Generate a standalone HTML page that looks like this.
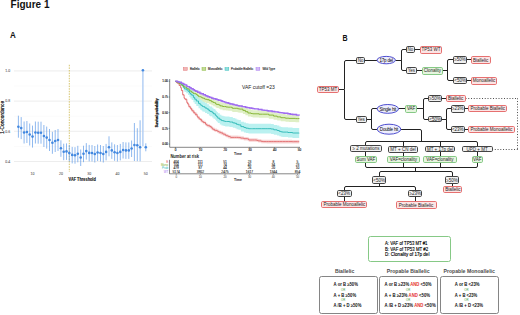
<!DOCTYPE html>
<html><head><meta charset="utf-8"><style>
html,body{margin:0;padding:0;background:#fff;width:520px;height:315px;overflow:hidden}
svg{display:block}
text{font-family:"Liberation Sans", sans-serif}
.k{stroke:#000;stroke-width:0.0px}
.k2{stroke:#1a1a1a;stroke-width:0.12px}
</style></head><body>
<svg width="520" height="315" viewBox="0 0 520 315" font-family='"Liberation Sans", sans-serif'>
<line x1="14" y1="161.5" x2="152" y2="161.5" stroke="#e9e9e9" stroke-width="0.8"/>
<line x1="14" y1="146.4" x2="152" y2="146.4" stroke="#f4f4f4" stroke-width="0.5"/>
<line x1="14" y1="131.3" x2="152" y2="131.3" stroke="#e9e9e9" stroke-width="0.8"/>
<line x1="14" y1="116.2" x2="152" y2="116.2" stroke="#f4f4f4" stroke-width="0.5"/>
<line x1="14" y1="101.1" x2="152" y2="101.1" stroke="#e9e9e9" stroke-width="0.8"/>
<line x1="14" y1="86.0" x2="152" y2="86.0" stroke="#f4f4f4" stroke-width="0.5"/>
<line x1="14" y1="70.9" x2="152" y2="70.9" stroke="#e9e9e9" stroke-width="0.8"/>
<line x1="69.3" y1="64.8" x2="69.3" y2="172" stroke="#c8b23e" stroke-width="0.75" stroke-dasharray="1.5,1.1"/>
<line x1="18.4" y1="115.7" x2="18.4" y2="137.7" stroke="#5f9be8" stroke-width="0.7"/>
<line x1="21.2" y1="117.1" x2="21.2" y2="139.1" stroke="#5f9be8" stroke-width="0.7"/>
<line x1="24.1" y1="121.5" x2="24.1" y2="143.5" stroke="#5f9be8" stroke-width="0.7"/>
<line x1="26.9" y1="121.0" x2="26.9" y2="143.0" stroke="#5f9be8" stroke-width="0.7"/>
<line x1="29.7" y1="123.5" x2="29.7" y2="145.5" stroke="#5f9be8" stroke-width="0.7"/>
<line x1="32.5" y1="125.6" x2="32.5" y2="147.6" stroke="#5f9be8" stroke-width="0.7"/>
<line x1="35.4" y1="121.5" x2="35.4" y2="143.5" stroke="#5f9be8" stroke-width="0.7"/>
<line x1="38.2" y1="121.7" x2="38.2" y2="143.7" stroke="#5f9be8" stroke-width="0.7"/>
<line x1="41.0" y1="121.7" x2="41.0" y2="143.7" stroke="#5f9be8" stroke-width="0.7"/>
<line x1="43.9" y1="125.0" x2="43.9" y2="147.0" stroke="#5f9be8" stroke-width="0.7"/>
<line x1="46.7" y1="126.6" x2="46.7" y2="148.6" stroke="#5f9be8" stroke-width="0.7"/>
<line x1="49.5" y1="129.0" x2="49.5" y2="151.0" stroke="#5f9be8" stroke-width="0.7"/>
<line x1="52.4" y1="131.8" x2="52.4" y2="153.8" stroke="#5f9be8" stroke-width="0.7"/>
<line x1="55.2" y1="130.0" x2="55.2" y2="152.0" stroke="#5f9be8" stroke-width="0.7"/>
<line x1="58.0" y1="129.0" x2="58.0" y2="151.0" stroke="#5f9be8" stroke-width="0.7"/>
<line x1="60.9" y1="140.3" x2="60.9" y2="156.8" stroke="#5f9be8" stroke-width="0.7"/>
<line x1="63.7" y1="143.7" x2="63.7" y2="160.2" stroke="#5f9be8" stroke-width="0.7"/>
<line x1="66.5" y1="143.4" x2="66.5" y2="159.9" stroke="#5f9be8" stroke-width="0.7"/>
<line x1="69.3" y1="145.0" x2="69.3" y2="161.5" stroke="#5f9be8" stroke-width="0.7"/>
<line x1="72.2" y1="146.9" x2="72.2" y2="163.4" stroke="#5f9be8" stroke-width="0.7"/>
<line x1="75.0" y1="147.2" x2="75.0" y2="163.7" stroke="#5f9be8" stroke-width="0.7"/>
<line x1="77.8" y1="145.8" x2="77.8" y2="162.3" stroke="#5f9be8" stroke-width="0.7"/>
<line x1="80.7" y1="149.5" x2="80.7" y2="166.0" stroke="#5f9be8" stroke-width="0.7"/>
<line x1="83.5" y1="145.7" x2="83.5" y2="162.2" stroke="#5f9be8" stroke-width="0.7"/>
<line x1="86.3" y1="143.1" x2="86.3" y2="159.6" stroke="#5f9be8" stroke-width="0.7"/>
<line x1="89.2" y1="144.9" x2="89.2" y2="161.4" stroke="#5f9be8" stroke-width="0.7"/>
<line x1="92.0" y1="145.0" x2="92.0" y2="161.5" stroke="#5f9be8" stroke-width="0.7"/>
<line x1="94.8" y1="146.0" x2="94.8" y2="162.5" stroke="#5f9be8" stroke-width="0.7"/>
<line x1="97.6" y1="144.5" x2="97.6" y2="161.0" stroke="#5f9be8" stroke-width="0.7"/>
<line x1="100.5" y1="145.0" x2="100.5" y2="161.5" stroke="#5f9be8" stroke-width="0.7"/>
<line x1="103.3" y1="146.0" x2="103.3" y2="162.5" stroke="#5f9be8" stroke-width="0.7"/>
<line x1="106.1" y1="143.9" x2="106.1" y2="160.4" stroke="#5f9be8" stroke-width="0.7"/>
<line x1="109.0" y1="136.3" x2="109.0" y2="156.3" stroke="#5f9be8" stroke-width="0.7"/>
<line x1="111.8" y1="142.4" x2="111.8" y2="158.9" stroke="#5f9be8" stroke-width="0.7"/>
<line x1="114.6" y1="144.3" x2="114.6" y2="160.8" stroke="#5f9be8" stroke-width="0.7"/>
<line x1="117.4" y1="145.0" x2="117.4" y2="161.5" stroke="#5f9be8" stroke-width="0.7"/>
<line x1="120.3" y1="143.9" x2="120.3" y2="160.4" stroke="#5f9be8" stroke-width="0.7"/>
<line x1="123.1" y1="142.0" x2="123.1" y2="158.5" stroke="#5f9be8" stroke-width="0.7"/>
<line x1="125.9" y1="142.4" x2="125.9" y2="158.9" stroke="#5f9be8" stroke-width="0.7"/>
<line x1="128.8" y1="142.4" x2="128.8" y2="158.9" stroke="#5f9be8" stroke-width="0.7"/>
<line x1="131.6" y1="140.5" x2="131.6" y2="157.0" stroke="#5f9be8" stroke-width="0.7"/>
<line x1="134.4" y1="123.0" x2="134.4" y2="161.0" stroke="#5f9be8" stroke-width="0.7"/>
<line x1="137.3" y1="128.2" x2="137.3" y2="161.2" stroke="#5f9be8" stroke-width="0.7"/>
<line x1="140.1" y1="120.3" x2="140.1" y2="161.3" stroke="#5f9be8" stroke-width="0.7"/>
<line x1="142.9" y1="70.2" x2="142.9" y2="146.2" stroke="#a9c9f3" stroke-width="1.3"/>
<line x1="145.8" y1="143.3" x2="145.8" y2="151.3" stroke="#5f9be8" stroke-width="0.7"/>
<circle cx="18.4" cy="126.7" r="1.3" fill="#4288e0"/>
<circle cx="21.2" cy="128.1" r="1.3" fill="#4288e0"/>
<circle cx="24.1" cy="132.5" r="1.3" fill="#4288e0"/>
<circle cx="26.9" cy="132.0" r="1.3" fill="#4288e0"/>
<circle cx="29.7" cy="134.5" r="1.3" fill="#4288e0"/>
<circle cx="32.5" cy="136.6" r="1.3" fill="#4288e0"/>
<circle cx="35.4" cy="132.5" r="1.3" fill="#4288e0"/>
<circle cx="38.2" cy="132.7" r="1.3" fill="#4288e0"/>
<circle cx="41.0" cy="132.7" r="1.3" fill="#4288e0"/>
<circle cx="43.9" cy="136.0" r="1.3" fill="#4288e0"/>
<circle cx="46.7" cy="137.6" r="1.3" fill="#4288e0"/>
<circle cx="49.5" cy="140.0" r="1.3" fill="#4288e0"/>
<circle cx="52.4" cy="142.8" r="1.3" fill="#4288e0"/>
<circle cx="55.2" cy="141.0" r="1.3" fill="#4288e0"/>
<circle cx="58.0" cy="140.0" r="1.3" fill="#4288e0"/>
<circle cx="60.9" cy="148.3" r="1.3" fill="#4288e0"/>
<circle cx="63.7" cy="151.7" r="1.3" fill="#4288e0"/>
<circle cx="66.5" cy="151.4" r="1.3" fill="#4288e0"/>
<circle cx="69.3" cy="153.0" r="1.3" fill="#4288e0"/>
<circle cx="72.2" cy="154.9" r="1.3" fill="#4288e0"/>
<circle cx="75.0" cy="155.2" r="1.3" fill="#4288e0"/>
<circle cx="77.8" cy="153.8" r="1.3" fill="#4288e0"/>
<circle cx="80.7" cy="157.5" r="1.3" fill="#4288e0"/>
<circle cx="83.5" cy="153.7" r="1.3" fill="#4288e0"/>
<circle cx="86.3" cy="151.1" r="1.3" fill="#4288e0"/>
<circle cx="89.2" cy="152.9" r="1.3" fill="#4288e0"/>
<circle cx="92.0" cy="153.0" r="1.3" fill="#4288e0"/>
<circle cx="94.8" cy="154.0" r="1.3" fill="#4288e0"/>
<circle cx="97.6" cy="152.5" r="1.3" fill="#4288e0"/>
<circle cx="100.5" cy="153.0" r="1.3" fill="#4288e0"/>
<circle cx="103.3" cy="154.0" r="1.3" fill="#4288e0"/>
<circle cx="106.1" cy="151.9" r="1.3" fill="#4288e0"/>
<circle cx="109.0" cy="147.3" r="1.3" fill="#4288e0"/>
<circle cx="111.8" cy="150.4" r="1.3" fill="#4288e0"/>
<circle cx="114.6" cy="152.3" r="1.3" fill="#4288e0"/>
<circle cx="117.4" cy="153.0" r="1.3" fill="#4288e0"/>
<circle cx="120.3" cy="151.9" r="1.3" fill="#4288e0"/>
<circle cx="123.1" cy="150.0" r="1.3" fill="#4288e0"/>
<circle cx="125.9" cy="150.4" r="1.3" fill="#4288e0"/>
<circle cx="128.8" cy="150.4" r="1.3" fill="#4288e0"/>
<circle cx="131.6" cy="148.5" r="1.3" fill="#4288e0"/>
<circle cx="134.4" cy="145.0" r="1.3" fill="#4288e0"/>
<circle cx="137.3" cy="145.2" r="1.3" fill="#4288e0"/>
<circle cx="140.1" cy="147.3" r="1.3" fill="#4288e0"/>
<circle cx="142.9" cy="70.2" r="1.3" fill="#4288e0"/>
<circle cx="145.8" cy="147.3" r="1.3" fill="#4288e0"/>
<text x="10.2" y="72.3" font-size="3.5" text-anchor="end" fill="#555" stroke="#555" stroke-width="0.05">1.0</text>
<text x="10.2" y="102.4" font-size="3.5" text-anchor="end" fill="#555" stroke="#555" stroke-width="0.05">0.8</text>
<text x="10.2" y="132.7" font-size="3.5" text-anchor="end" fill="#555" stroke="#555" stroke-width="0.05">0.6</text>
<text x="10.2" y="162.8" font-size="3.5" text-anchor="end" fill="#555" stroke="#555" stroke-width="0.05">0.4</text>
<text x="32.5" y="175.2" font-size="3.5" text-anchor="middle" fill="#555" stroke="#555" stroke-width="0.05">10</text>
<text x="60.9" y="175.2" font-size="3.5" text-anchor="middle" fill="#555" stroke="#555" stroke-width="0.05">20</text>
<text x="89.2" y="175.2" font-size="3.5" text-anchor="middle" fill="#555" stroke="#555" stroke-width="0.05">30</text>
<text x="117.4" y="175.2" font-size="3.5" text-anchor="middle" fill="#555" stroke="#555" stroke-width="0.05">40</text>
<text x="145.8" y="175.2" font-size="3.5" text-anchor="middle" fill="#555" stroke="#555" stroke-width="0.05">50</text>
<text x="68.6" y="180.6" font-size="4.5" font-weight="bold" textLength="27.2" lengthAdjust="spacingAndGlyphs" fill="#111" stroke="#111" stroke-width="0.12">VAF Threshold</text>
<text transform="translate(3.9,117.3) rotate(-90)" font-size="4.8" text-anchor="middle" fill="#111" stroke="#111" stroke-width="0.2">1-Concordance</text>
<polygon points="175.4,81.3 176.8,81.3 176.8,81.5 179.0,81.5 179.0,82.4 179.8,82.4 179.8,82.6 182.0,82.6 182.0,83.6 183.1,83.6 183.1,84.5 184.4,84.5 184.4,84.9 186.4,84.9 186.4,85.9 187.6,85.9 187.6,86.2 189.1,86.2 189.1,87.0 189.8,87.0 189.8,87.9 191.6,87.9 191.6,88.8 193.1,88.8 193.1,89.7 194.3,89.7 194.3,90.0 196.2,90.0 196.2,90.8 197.3,90.8 197.3,91.9 198.6,91.9 198.6,93.0 199.4,93.0 199.4,93.0 200.7,93.0 200.7,93.4 201.7,93.4 201.7,94.1 202.7,94.1 202.7,94.6 204.5,94.6 204.5,95.3 205.6,95.3 205.6,95.7 207.0,95.7 207.0,96.0 209.2,96.0 209.2,97.0 211.4,97.0 211.4,98.0 213.2,98.0 213.2,98.9 214.6,98.9 214.6,99.1 215.7,99.1 215.7,100.4 216.6,100.4 216.6,100.7 218.8,100.7 218.8,101.4 220.2,101.4 220.2,102.3 221.0,102.3 221.0,102.3 222.6,102.3 222.6,102.9 224.5,102.9 224.5,102.9 226.1,102.9 226.1,103.3 228.2,103.3 228.2,103.5 228.9,103.5 228.9,103.5 230.4,103.5 230.4,103.5 231.7,103.5 231.7,103.9 232.4,103.9 232.4,104.6 234.1,104.6 234.1,104.6 236.1,104.6 236.1,104.6 237.7,104.6 237.7,105.1 239.4,105.1 239.4,105.4 242.9,105.4 242.9,106.8 245.4,106.8 245.4,108.0 247.9,108.0 247.9,109.3 251.1,109.3 251.1,109.8 252.6,109.8 252.6,110.2 256.0,110.2 256.0,110.2 259.0,110.2 259.0,110.5 262.4,110.5 262.4,110.5 263.9,110.5 263.9,110.5 267.3,110.5 267.3,110.5 268.8,110.5 268.8,111.5 270.1,111.5 270.1,111.5 273.6,111.5 273.6,112.5 277.2,112.5 277.2,113.3 280.8,113.3 280.8,114.0 283.1,114.0 283.1,114.0 284.9,114.0 284.9,114.3 286.0,114.3 286.0,114.5 288.9,114.5 288.9,114.8 292.0,114.8 292.0,114.8 295.5,114.8 295.5,114.9 297.3,114.9 297.3,114.9 298.9,114.9 298.9,115.0 299.2,115.0 299.2,115.3 299.2,122.6 299.2,122.3 298.9,122.3 298.9,122.2 297.3,122.2 297.3,122.2 295.5,122.2 295.5,122.0 292.0,122.0 292.0,122.0 288.9,122.0 288.9,121.8 286.0,121.8 286.0,121.6 284.9,121.6 284.9,121.3 283.1,121.3 283.1,121.3 280.8,121.3 280.8,120.5 277.2,120.5 277.2,119.7 273.6,119.7 273.6,118.8 270.1,118.8 270.1,118.8 268.8,118.8 268.8,117.8 267.3,117.8 267.3,117.8 263.9,117.8 263.9,117.8 262.4,117.8 262.4,117.8 259.0,117.8 259.0,117.4 256.0,117.4 256.0,117.4 252.6,117.4 252.6,117.1 251.1,117.1 251.1,116.6 247.9,116.6 247.9,115.3 245.4,115.3 245.4,114.1 242.9,114.1 242.9,112.7 239.4,112.7 239.4,112.4 237.7,112.4 237.7,111.9 236.1,111.9 236.1,111.9 234.1,111.9 234.1,111.9 232.4,111.9 232.4,111.2 231.7,111.2 231.7,110.8 230.4,110.8 230.4,110.8 228.9,110.8 228.9,110.8 228.2,110.8 228.2,110.6 226.1,110.6 226.1,110.2 224.5,110.2 224.5,110.2 222.6,110.2 222.6,109.6 221.0,109.6 221.0,109.6 220.2,109.6 220.2,108.7 218.8,108.7 218.8,108.0 216.6,108.0 216.6,107.6 215.7,107.6 215.7,106.4 214.6,106.4 214.6,106.2 213.2,106.2 213.2,105.3 211.4,105.3 211.4,104.3 209.2,104.3 209.2,103.3 207.0,103.3 207.0,103.0 205.6,103.0 205.6,102.6 204.5,102.6 204.5,101.9 202.7,101.9 202.7,101.4 201.7,101.4 201.7,100.7 200.7,100.7 200.7,100.3 199.4,100.3 199.4,100.3 198.6,100.3 198.6,99.2 197.3,99.2 197.3,98.1 196.2,98.1 196.2,97.3 194.3,97.3 194.3,97.0 193.1,97.0 193.1,95.9 191.6,95.9 191.6,94.3 189.8,94.3 189.8,93.2 189.1,93.2 189.1,91.7 187.6,91.7 187.6,91.0 186.4,91.0 186.4,89.3 184.4,89.3 184.4,88.4 183.1,88.4 183.1,87.2 182.0,87.2 182.0,85.3 179.8,85.3 179.8,84.8 179.0,84.8 179.0,83.1 176.8,83.1 176.8,81.8 175.4,81.8" fill="#dcedbf" opacity="0.9"/>
<polygon points="175.4,81.3 176.4,81.3 176.4,81.3 177.5,81.3 177.5,81.3 179.5,81.3 179.5,81.3 180.2,81.3 180.2,81.7 181.8,81.7 181.8,82.9 183.6,82.9 183.6,84.9 184.5,84.9 184.5,85.9 185.2,85.9 185.2,85.8 186.3,85.8 186.3,86.4 188.0,86.4 188.0,87.4 189.5,87.4 189.5,88.7 190.4,88.7 190.4,89.6 191.7,89.6 191.7,90.5 193.4,90.5 193.4,92.5 194.7,92.5 194.7,94.3 196.3,94.3 196.3,96.1 198.5,96.1 198.5,98.5 200.2,98.5 200.2,100.0 201.5,100.0 201.5,100.6 202.4,100.6 202.4,101.6 203.6,101.6 203.6,101.9 205.0,101.9 205.0,103.1 207.0,103.1 207.0,104.2 208.9,104.2 208.9,105.7 210.0,105.7 210.0,106.5 212.2,106.5 212.2,107.8 213.5,107.8 213.5,108.9 215.3,108.9 215.3,110.3 216.1,110.3 216.1,111.1 216.8,111.1 216.8,111.9 217.8,111.9 217.8,113.3 219.8,113.3 219.8,114.8 221.5,114.8 221.5,115.7 223.5,115.7 223.5,116.2 225.2,116.2 225.2,116.6 226.5,116.6 226.5,116.6 227.9,116.6 227.9,116.6 229.5,116.6 229.5,117.1 231.5,117.1 231.5,117.1 232.8,117.1 232.8,118.0 234.9,118.0 234.9,118.4 236.5,118.4 236.5,119.4 238.4,119.4 238.4,120.0 240.9,120.0 240.9,121.7 243.9,121.7 243.9,122.6 245.9,122.6 245.9,123.3 248.5,123.3 248.5,123.8 250.1,123.8 250.1,123.8 251.4,123.8 251.4,123.8 252.5,123.8 252.5,123.8 255.6,123.8 255.6,123.8 257.9,123.8 257.9,123.8 261.6,123.8 261.6,123.8 265.1,123.8 265.1,123.8 267.2,123.8 267.2,123.8 271.1,123.8 271.1,124.1 273.8,124.1 273.8,124.9 277.1,124.9 277.1,125.6 279.3,125.6 279.3,126.5 280.9,126.5 280.9,126.9 282.4,126.9 282.4,127.2 283.9,127.2 283.9,127.2 286.7,127.2 286.7,127.2 288.0,127.2 288.0,127.6 289.1,127.6 289.1,127.6 292.5,127.6 292.5,128.1 293.8,128.1 293.8,128.1 296.1,128.1 296.1,128.1 298.6,128.1 298.6,128.1 299.2,128.1 299.2,128.2 299.2,138.0 299.2,137.9 298.6,137.9 298.6,137.9 296.1,137.9 296.1,137.9 293.8,137.9 293.8,137.9 292.5,137.9 292.5,137.4 289.1,137.4 289.1,137.4 288.0,137.4 288.0,137.0 286.7,137.0 286.7,137.0 283.9,137.0 283.9,137.0 282.4,137.0 282.4,136.7 280.9,136.7 280.9,136.3 279.3,136.3 279.3,135.4 277.1,135.4 277.1,134.7 273.8,134.7 273.8,133.9 271.1,133.9 271.1,133.6 267.2,133.6 267.2,133.6 265.1,133.6 265.1,133.6 261.6,133.6 261.6,133.6 257.9,133.6 257.9,133.6 255.6,133.6 255.6,133.6 252.5,133.6 252.5,133.6 251.4,133.6 251.4,133.6 250.1,133.6 250.1,133.6 248.5,133.6 248.5,133.0 245.9,133.0 245.9,132.4 243.9,132.4 243.9,131.5 240.9,131.5 240.9,129.8 238.4,129.8 238.4,129.2 236.5,129.2 236.5,128.2 234.9,128.2 234.9,127.8 232.8,127.8 232.8,126.9 231.5,126.9 231.5,126.9 229.5,126.9 229.5,126.4 227.9,126.4 227.9,126.4 226.5,126.4 226.5,126.4 225.2,126.4 225.2,126.0 223.5,126.0 223.5,125.5 221.5,125.5 221.5,124.6 219.8,124.6 219.8,123.0 217.8,123.0 217.8,121.7 216.8,121.7 216.8,120.9 216.1,120.9 216.1,120.1 215.3,120.1 215.3,118.7 213.5,118.7 213.5,117.6 212.2,117.6 212.2,116.3 210.0,116.3 210.0,115.5 208.9,115.5 208.9,114.0 207.0,114.0 207.0,112.9 205.0,112.9 205.0,111.7 203.6,111.7 203.6,111.4 202.4,111.4 202.4,110.4 201.5,110.4 201.5,109.8 200.2,109.8 200.2,108.3 198.5,108.3 198.5,105.9 196.3,105.9 196.3,104.1 194.7,104.1 194.7,102.3 193.4,102.3 193.4,100.0 191.7,100.0 191.7,98.5 190.4,98.5 190.4,97.1 189.5,97.1 189.5,95.1 188.0,95.1 188.0,93.2 186.3,93.2 186.3,92.1 185.2,92.1 185.2,91.9 184.5,91.9 184.5,90.4 183.6,90.4 183.6,87.6 181.8,87.6 181.8,85.5 180.2,85.5 180.2,84.8 179.5,84.8 179.5,83.2 177.5,83.2 177.5,82.6 176.4,82.6 176.4,82.0 175.4,82.0" fill="#b3f0ee" opacity="0.9"/>
<polygon points="175.4,81.3 176.2,81.3 176.2,81.8 177.2,81.8 177.2,82.8 179.1,82.8 179.1,84.9 180.6,84.9 180.6,87.0 181.4,87.0 181.4,89.7 182.7,89.7 182.7,93.9 184.1,93.9 184.1,97.2 185.0,97.2 185.0,98.2 186.8,98.2 186.8,101.2 187.6,101.2 187.6,102.6 188.8,102.6 188.8,105.2 190.3,105.2 190.3,106.8 191.6,106.8 191.6,108.6 193.2,108.6 193.2,110.6 195.0,110.6 195.0,112.5 197.1,112.5 197.1,114.9 198.2,114.9 198.2,116.2 199.9,116.2 199.9,117.9 201.6,117.9 201.6,119.4 202.7,119.4 202.7,119.7 203.3,119.7 203.3,120.7 205.5,120.7 205.5,122.5 206.6,122.5 206.6,123.3 207.7,123.3 207.7,123.9 209.8,123.9 209.8,124.9 211.3,124.9 211.3,126.2 212.7,126.2 212.7,127.6 214.6,127.6 214.6,128.6 215.2,128.6 215.2,128.6 217.0,128.6 217.0,129.2 218.2,129.2 218.2,129.8 219.0,129.8 219.0,130.4 220.7,130.4 220.7,131.2 222.8,131.2 222.8,132.3 223.7,132.3 223.7,132.4 225.4,132.4 225.4,133.5 226.5,133.5 226.5,134.0 228.3,134.0 228.3,134.9 230.1,134.9 230.1,135.3 231.0,135.3 231.0,135.6 233.0,135.6 233.0,135.6 234.7,135.6 234.7,135.6 236.4,135.6 236.4,135.6 238.3,135.6 238.3,135.8 240.6,135.8 240.6,136.3 243.8,136.3 243.8,137.0 247.4,137.0 247.4,137.2 248.7,137.2 248.7,138.2 252.2,138.2 252.2,138.2 254.4,138.2 254.4,138.2 256.8,138.2 256.8,138.6 258.2,138.6 258.2,139.1 261.3,139.1 261.3,139.7 263.2,139.7 263.2,139.8 266.7,139.8 266.7,139.8 268.6,139.8 268.6,139.8 271.2,139.8 271.2,139.8 273.4,139.8 273.4,139.8 276.2,139.8 276.2,139.8 277.8,139.8 277.8,139.8 279.3,139.8 279.3,139.8 282.5,139.8 282.5,139.8 285.7,139.8 285.7,139.8 288.4,139.8 288.4,139.8 292.1,139.8 292.1,140.0 293.7,140.0 293.7,140.0 297.3,140.0 297.3,140.0 298.8,140.0 298.8,140.0 299.2,140.0 299.2,140.0 299.2,143.5 299.2,143.5 298.8,143.5 298.8,143.5 297.3,143.5 297.3,143.5 293.7,143.5 293.7,143.5 292.1,143.5 292.1,143.4 288.4,143.4 288.4,143.4 285.7,143.4 285.7,143.4 282.5,143.4 282.5,143.4 279.3,143.4 279.3,143.4 277.8,143.4 277.8,143.4 276.2,143.4 276.2,143.4 273.4,143.4 273.4,143.4 271.2,143.4 271.2,143.4 268.6,143.4 268.6,143.4 266.7,143.4 266.7,143.3 263.2,143.3 263.2,143.2 261.3,143.2 261.3,142.6 258.2,142.6 258.2,142.1 256.8,142.1 256.8,141.7 254.4,141.7 254.4,141.7 252.2,141.7 252.2,141.7 248.7,141.7 248.7,140.7 247.4,140.7 247.4,140.5 243.8,140.5 243.8,139.8 240.6,139.8 240.6,139.3 238.3,139.3 238.3,139.1 236.4,139.1 236.4,139.1 234.7,139.1 234.7,139.1 233.0,139.1 233.0,139.1 231.0,139.1 231.0,138.9 230.1,138.9 230.1,138.4 228.3,138.4 228.3,137.5 226.5,137.5 226.5,137.0 225.4,137.0 225.4,135.9 223.7,135.9 223.7,135.8 222.8,135.8 222.8,134.7 220.7,134.7 220.7,133.9 219.0,133.9 219.0,133.4 218.2,133.4 218.2,132.8 217.0,132.8 217.0,132.1 215.2,132.1 215.2,132.1 214.6,132.1 214.6,131.1 212.7,131.1 212.7,129.7 211.3,129.7 211.3,128.4 209.8,128.4 209.8,127.5 207.7,127.5 207.7,126.8 206.6,126.8 206.6,126.0 205.5,126.0 205.5,124.2 203.3,124.2 203.3,123.2 202.7,123.2 202.7,122.9 201.6,122.9 201.6,121.4 199.9,121.4 199.9,119.7 198.2,119.7 198.2,118.4 197.1,118.4 197.1,116.1 195.0,116.1 195.0,114.1 193.2,114.1 193.2,112.0 191.6,112.0 191.6,110.0 190.3,110.0 190.3,108.1 188.8,108.1 188.8,105.3 187.6,105.3 187.6,103.7 186.8,103.7 186.8,100.4 185.0,100.4 185.0,99.2 184.1,99.2 184.1,95.7 182.7,95.7 182.7,91.3 181.4,91.3 181.4,88.4 180.6,88.4 180.6,86.0 179.1,86.0 179.1,83.6 177.2,83.6 177.2,82.5 176.2,82.5 176.2,81.6 175.4,81.6" fill="#f8d2d2" opacity="0.9"/>
<polygon points="175.4,81.3 177.5,81.3 177.5,81.7 179.0,81.7 179.0,82.0 181.2,82.0 181.2,82.7 181.9,82.7 181.9,83.0 183.5,83.0 183.5,83.8 184.7,83.8 184.7,84.4 186.6,84.4 186.6,85.6 187.5,85.6 187.5,86.0 189.6,86.0 189.6,87.2 191.1,87.2 191.1,88.0 193.1,88.0 193.1,89.0 194.5,89.0 194.5,89.8 195.8,89.8 195.8,90.6 197.7,90.6 197.7,91.5 199.9,91.5 199.9,92.5 201.1,92.5 201.1,93.0 203.3,93.0 203.3,94.0 205.4,94.0 205.4,94.8 206.3,94.8 206.3,95.3 207.9,95.3 207.9,96.0 209.7,96.0 209.7,96.7 211.8,96.7 211.8,97.4 213.5,97.4 213.5,97.9 214.4,97.9 214.4,98.0 215.8,98.0 215.8,98.6 217.2,98.6 217.2,98.9 218.6,98.9 218.6,99.4 220.8,99.4 220.8,100.1 222.0,100.1 222.0,100.5 222.9,100.5 222.9,100.9 224.4,100.9 224.4,101.4 226.0,101.4 226.0,101.9 228.2,101.9 228.2,102.5 229.7,102.5 229.7,103.0 230.8,103.0 230.8,103.2 232.9,103.2 232.9,103.8 234.3,103.8 234.3,104.1 236.0,104.1 236.0,104.5 237.4,104.5 237.4,104.8 239.0,104.8 239.0,105.2 242.1,105.2 242.1,105.9 245.4,105.9 245.4,106.6 246.9,106.6 246.9,106.8 249.3,106.8 249.3,107.2 251.3,107.2 251.3,107.6 252.8,107.6 252.8,107.8 254.5,107.8 254.5,108.1 258.3,108.1 258.3,108.8 262.0,108.8 262.0,109.4 264.1,109.4 264.1,109.6 267.3,109.6 267.3,110.1 268.4,110.1 268.4,110.2 272.1,110.2 272.1,110.7 274.7,110.7 274.7,111.1 278.1,111.1 278.1,111.6 279.9,111.6 279.9,111.9 282.0,111.9 282.0,112.2 284.0,112.2 284.0,112.5 287.9,112.5 287.9,113.1 290.2,113.1 290.2,113.5 292.7,113.5 292.7,113.8 296.5,113.8 296.5,114.4 299.2,114.4 299.2,114.8 299.2,116.3 299.2,115.9 296.5,115.9 296.5,115.3 292.7,115.3 292.7,115.0 290.2,115.0 290.2,114.6 287.9,114.6 287.9,114.0 284.0,114.0 284.0,113.7 282.0,113.7 282.0,113.4 279.9,113.4 279.9,113.2 278.1,113.2 278.1,112.6 274.7,112.6 274.7,112.2 272.1,112.2 272.1,111.7 268.4,111.7 268.4,111.6 267.3,111.6 267.3,111.1 264.1,111.1 264.1,110.9 262.0,110.9 262.0,110.3 258.3,110.3 258.3,109.6 254.5,109.6 254.5,109.3 252.8,109.3 252.8,109.1 251.3,109.1 251.3,108.7 249.3,108.7 249.3,108.3 246.9,108.3 246.9,108.1 245.4,108.1 245.4,107.4 242.1,107.4 242.1,106.7 239.0,106.7 239.0,106.3 237.4,106.3 237.4,106.0 236.0,106.0 236.0,105.6 234.3,105.6 234.3,105.3 232.9,105.3 232.9,104.7 230.8,104.7 230.8,104.5 229.7,104.5 229.7,104.0 228.2,104.0 228.2,103.4 226.0,103.4 226.0,102.9 224.4,102.9 224.4,102.4 222.9,102.4 222.9,102.0 222.0,102.0 222.0,101.6 220.8,101.6 220.8,100.9 218.6,100.9 218.6,100.4 217.2,100.4 217.2,100.1 215.8,100.1 215.8,99.6 214.4,99.6 214.4,99.4 213.5,99.4 213.5,98.9 211.8,98.9 211.8,98.2 209.7,98.2 209.7,97.5 207.9,97.5 207.9,96.8 206.3,96.8 206.3,96.3 205.4,96.3 205.4,95.5 203.3,95.5 203.3,94.5 201.1,94.5 201.1,94.1 199.9,94.1 199.9,93.0 197.7,93.0 197.7,92.1 195.8,92.1 195.8,91.3 194.5,91.3 194.5,90.5 193.1,90.5 193.1,89.4 191.1,89.4 191.1,88.5 189.6,88.5 189.6,87.2 187.5,87.2 187.5,86.6 186.6,86.6 186.6,85.3 184.7,85.3 184.7,84.6 183.5,84.6 183.5,83.7 181.9,83.7 181.9,83.4 181.2,83.4 181.2,82.5 179.0,82.5 179.0,82.1 177.5,82.1 177.5,81.4 175.4,81.4" fill="#e6d8fb" opacity="0.9"/>
<polyline points="175.4,81.3 176.2,81.3 176.2,82.2 177.2,82.2 177.2,83.2 179.1,83.2 179.1,85.5 180.6,85.5 180.6,87.7 181.4,87.7 181.4,90.5 182.7,90.5 182.7,94.8 184.1,94.8 184.1,98.2 185.0,98.2 185.0,99.3 186.8,99.3 186.8,102.5 187.6,102.5 187.6,103.9 188.8,103.9 188.8,106.6 190.3,106.6 190.3,108.4 191.6,108.4 191.6,110.3 193.2,110.3 193.2,112.3 195.0,112.3 195.0,114.3 197.1,114.3 197.1,116.7 198.2,116.7 198.2,118.0 199.9,118.0 199.9,119.6 201.6,119.6 201.6,121.2 202.7,121.2 202.7,121.5 203.3,121.5 203.3,122.5 205.5,122.5 205.5,124.2 206.6,124.2 206.6,125.1 207.7,125.1 207.7,125.7 209.8,125.7 209.8,126.6 211.3,126.6 211.3,127.9 212.7,127.9 212.7,129.3 214.6,129.3 214.6,130.4 215.2,130.4 215.2,130.4 217.0,130.4 217.0,131.0 218.2,131.0 218.2,131.6 219.0,131.6 219.0,132.1 220.7,132.1 220.7,132.9 222.8,132.9 222.8,134.0 223.7,134.0 223.7,134.2 225.4,134.2 225.4,135.3 226.5,135.3 226.5,135.8 228.3,135.8 228.3,136.6 230.1,136.6 230.1,137.1 231.0,137.1 231.0,137.4 233.0,137.4 233.0,137.4 234.7,137.4 234.7,137.4 236.4,137.4 236.4,137.4 238.3,137.4 238.3,137.6 240.6,137.6 240.6,138.1 243.8,138.1 243.8,138.7 247.4,138.7 247.4,138.9 248.7,138.9 248.7,140.0 252.2,140.0 252.2,140.0 254.4,140.0 254.4,140.0 256.8,140.0 256.8,140.4 258.2,140.4 258.2,140.9 261.3,140.9 261.3,141.4 263.2,141.4 263.2,141.6 266.7,141.6 266.7,141.6 268.6,141.6 268.6,141.6 271.2,141.6 271.2,141.6 273.4,141.6 273.4,141.6 276.2,141.6 276.2,141.6 277.8,141.6 277.8,141.6 279.3,141.6 279.3,141.6 282.5,141.6 282.5,141.6 285.7,141.6 285.7,141.6 288.4,141.6 288.4,141.6 292.1,141.6 292.1,141.7 293.7,141.7 293.7,141.7 297.3,141.7 297.3,141.7 298.8,141.7 298.8,141.7 299.2,141.7 299.2,141.7" fill="none" stroke="#e0686a" stroke-width="0.9"/>
<polyline points="175.4,81.3 176.4,81.3 176.4,81.6 177.5,81.6 177.5,82.0 179.5,82.0 179.5,83.1 180.2,83.1 180.2,83.6 181.8,83.6 181.8,85.3 183.6,85.3 183.6,87.7 184.5,87.7 184.5,88.9 185.2,88.9 185.2,88.9 186.3,88.9 186.3,89.8 188.0,89.8 188.0,91.3 189.5,91.3 189.5,92.9 190.4,92.9 190.4,94.1 191.7,94.1 191.7,95.2 193.4,95.2 193.4,97.4 194.7,97.4 194.7,99.2 196.3,99.2 196.3,101.0 198.5,101.0 198.5,103.4 200.2,103.4 200.2,104.9 201.5,104.9 201.5,105.5 202.4,105.5 202.4,106.5 203.6,106.5 203.6,106.8 205.0,106.8 205.0,108.0 207.0,108.0 207.0,109.1 208.9,109.1 208.9,110.6 210.0,110.6 210.0,111.4 212.2,111.4 212.2,112.7 213.5,112.7 213.5,113.8 215.3,113.8 215.3,115.2 216.1,115.2 216.1,116.0 216.8,116.0 216.8,116.8 217.8,116.8 217.8,118.2 219.8,118.2 219.8,119.7 221.5,119.7 221.5,120.6 223.5,120.6 223.5,121.1 225.2,121.1 225.2,121.5 226.5,121.5 226.5,121.5 227.9,121.5 227.9,121.5 229.5,121.5 229.5,122.0 231.5,122.0 231.5,122.0 232.8,122.0 232.8,122.9 234.9,122.9 234.9,123.3 236.5,123.3 236.5,124.3 238.4,124.3 238.4,124.9 240.9,124.9 240.9,126.6 243.9,126.6 243.9,127.5 245.9,127.5 245.9,128.2 248.5,128.2 248.5,128.7 250.1,128.7 250.1,128.7 251.4,128.7 251.4,128.7 252.5,128.7 252.5,128.7 255.6,128.7 255.6,128.7 257.9,128.7 257.9,128.7 261.6,128.7 261.6,128.7 265.1,128.7 265.1,128.7 267.2,128.7 267.2,128.7 271.1,128.7 271.1,129.0 273.8,129.0 273.8,129.8 277.1,129.8 277.1,130.5 279.3,130.5 279.3,131.4 280.9,131.4 280.9,131.8 282.4,131.8 282.4,132.1 283.9,132.1 283.9,132.1 286.7,132.1 286.7,132.1 288.0,132.1 288.0,132.5 289.1,132.5 289.1,132.5 292.5,132.5 292.5,133.0 293.8,133.0 293.8,133.0 296.1,133.0 296.1,133.0 298.6,133.0 298.6,133.0 299.2,133.0 299.2,133.1" fill="none" stroke="#2ab8b5" stroke-width="0.9"/>
<polyline points="175.4,81.3 176.8,81.3 176.8,82.3 179.0,82.3 179.0,83.6 179.8,83.6 179.8,83.9 182.0,83.9 182.0,85.4 183.1,85.4 183.1,86.5 184.4,86.5 184.4,87.1 186.4,87.1 186.4,88.4 187.6,88.4 187.6,88.9 189.1,88.9 189.1,90.1 189.8,90.1 189.8,91.1 191.6,91.1 191.6,92.3 193.1,92.3 193.1,93.4 194.3,93.4 194.3,93.7 196.2,93.7 196.2,94.5 197.3,94.5 197.3,95.6 198.6,95.6 198.6,96.6 199.4,96.6 199.4,96.7 200.7,96.7 200.7,97.0 201.7,97.0 201.7,97.7 202.7,97.7 202.7,98.2 204.5,98.2 204.5,99.0 205.6,99.0 205.6,99.3 207.0,99.3 207.0,99.7 209.2,99.7 209.2,100.6 211.4,100.6 211.4,101.7 213.2,101.7 213.2,102.5 214.6,102.5 214.6,102.8 215.7,102.8 215.7,104.0 216.6,104.0 216.6,104.4 218.8,104.4 218.8,105.0 220.2,105.0 220.2,105.9 221.0,105.9 221.0,105.9 222.6,105.9 222.6,106.5 224.5,106.5 224.5,106.6 226.1,106.6 226.1,107.0 228.2,107.0 228.2,107.2 228.9,107.2 228.9,107.2 230.4,107.2 230.4,107.2 231.7,107.2 231.7,107.6 232.4,107.6 232.4,108.3 234.1,108.3 234.1,108.3 236.1,108.3 236.1,108.3 237.7,108.3 237.7,108.8 239.4,108.8 239.4,109.1 242.9,109.1 242.9,110.4 245.4,110.4 245.4,111.7 247.9,111.7 247.9,113.0 251.1,113.0 251.1,113.5 252.6,113.5 252.6,113.8 256.0,113.8 256.0,113.8 259.0,113.8 259.0,114.2 262.4,114.2 262.4,114.2 263.9,114.2 263.9,114.2 267.3,114.2 267.3,114.2 268.8,114.2 268.8,115.1 270.1,115.1 270.1,115.1 273.6,115.1 273.6,116.1 277.2,116.1 277.2,116.9 280.8,116.9 280.8,117.7 283.1,117.7 283.1,117.7 284.9,117.7 284.9,118.0 286.0,118.0 286.0,118.2 288.9,118.2 288.9,118.4 292.0,118.4 292.0,118.4 295.5,118.4 295.5,118.6 297.3,118.6 297.3,118.6 298.9,118.6 298.9,118.7 299.2,118.7 299.2,119.0" fill="none" stroke="#7fb02a" stroke-width="0.9"/>
<polyline points="175.4,81.3 177.5,81.3 177.5,81.9 179.0,81.9 179.0,82.3 181.2,82.3 181.2,83.0 181.9,83.0 181.9,83.4 183.5,83.4 183.5,84.2 184.7,84.2 184.7,84.9 186.6,84.9 186.6,86.1 187.5,86.1 187.5,86.6 189.6,86.6 189.6,87.8 191.1,87.8 191.1,88.7 193.1,88.7 193.1,89.8 194.5,89.8 194.5,90.6 195.8,90.6 195.8,91.3 197.7,91.3 197.7,92.2 199.9,92.2 199.9,93.3 201.1,93.3 201.1,93.8 203.3,93.8 203.3,94.7 205.4,94.7 205.4,95.6 206.3,95.6 206.3,96.0 207.9,96.0 207.9,96.7 209.7,96.7 209.7,97.4 211.8,97.4 211.8,98.2 213.5,98.2 213.5,98.7 214.4,98.7 214.4,98.8 215.8,98.8 215.8,99.3 217.2,99.3 217.2,99.7 218.6,99.7 218.6,100.2 220.8,100.2 220.8,100.8 222.0,100.8 222.0,101.3 222.9,101.3 222.9,101.6 224.4,101.6 224.4,102.1 226.0,102.1 226.0,102.7 228.2,102.7 228.2,103.3 229.7,103.3 229.7,103.8 230.8,103.8 230.8,104.0 232.9,104.0 232.9,104.5 234.3,104.5 234.3,104.9 236.0,104.9 236.0,105.3 237.4,105.3 237.4,105.6 239.0,105.6 239.0,106.0 242.1,106.0 242.1,106.6 245.4,106.6 245.4,107.3 246.9,107.3 246.9,107.6 249.3,107.6 249.3,108.0 251.3,108.0 251.3,108.3 252.8,108.3 252.8,108.6 254.5,108.6 254.5,108.9 258.3,108.9 258.3,109.5 262.0,109.5 262.0,110.1 264.1,110.1 264.1,110.4 267.3,110.4 267.3,110.8 268.4,110.8 268.4,111.0 272.1,111.0 272.1,111.5 274.7,111.5 274.7,111.9 278.1,111.9 278.1,112.4 279.9,112.4 279.9,112.6 282.0,112.6 282.0,112.9 284.0,112.9 284.0,113.3 287.9,113.3 287.9,113.8 290.2,113.8 290.2,114.3 292.7,114.3 292.7,114.5 296.5,114.5 296.5,115.1 299.2,115.1 299.2,115.5" fill="none" stroke="#9f6cf0" stroke-width="1.4"/>
<line x1="169.7" y1="79" x2="169.7" y2="147.3" stroke="#333" stroke-width="0.6"/>
<line x1="169.7" y1="147.3" x2="300" y2="147.3" stroke="#333" stroke-width="0.6"/>
<text x="168" y="82.3" font-size="3.0" text-anchor="end" fill="#1a1a1a" class="k2">1.00</text>
<line x1="168.6" y1="81.3" x2="169.7" y2="81.3" stroke="#333" stroke-width="0.5"/>
<text x="168" y="98.0" font-size="3.0" text-anchor="end" fill="#1a1a1a" class="k2">0.75</text>
<line x1="168.6" y1="97.0" x2="169.7" y2="97.0" stroke="#333" stroke-width="0.5"/>
<text x="168" y="113.7" font-size="3.0" text-anchor="end" fill="#1a1a1a" class="k2">0.50</text>
<line x1="168.6" y1="112.7" x2="169.7" y2="112.7" stroke="#333" stroke-width="0.5"/>
<text x="168" y="129.5" font-size="3.0" text-anchor="end" fill="#1a1a1a" class="k2">0.25</text>
<line x1="168.6" y1="128.4" x2="169.7" y2="128.4" stroke="#333" stroke-width="0.5"/>
<text x="168" y="145.2" font-size="3.0" text-anchor="end" fill="#1a1a1a" class="k2">0.00</text>
<line x1="168.6" y1="144.1" x2="169.7" y2="144.1" stroke="#333" stroke-width="0.5"/>
<text x="175.7" y="150.6" font-size="3.0" text-anchor="middle" fill="#1a1a1a" class="k2">0</text>
<line x1="175.4" y1="147.3" x2="175.4" y2="148.4" stroke="#333" stroke-width="0.5"/>
<text x="200.5" y="150.6" font-size="3.0" text-anchor="middle" fill="#1a1a1a" class="k2">10</text>
<line x1="200.2" y1="147.3" x2="200.2" y2="148.4" stroke="#333" stroke-width="0.5"/>
<text x="225.2" y="150.6" font-size="3.0" text-anchor="middle" fill="#1a1a1a" class="k2">20</text>
<line x1="224.9" y1="147.3" x2="224.9" y2="148.4" stroke="#333" stroke-width="0.5"/>
<text x="250.0" y="150.6" font-size="3.0" text-anchor="middle" fill="#1a1a1a" class="k2">30</text>
<line x1="249.7" y1="147.3" x2="249.7" y2="148.4" stroke="#333" stroke-width="0.5"/>
<text x="274.7" y="150.6" font-size="3.0" text-anchor="middle" fill="#1a1a1a" class="k2">40</text>
<line x1="274.4" y1="147.3" x2="274.4" y2="148.4" stroke="#333" stroke-width="0.5"/>
<text x="299.5" y="150.6" font-size="3.0" text-anchor="middle" fill="#1a1a1a" class="k2">50</text>
<line x1="299.2" y1="147.3" x2="299.2" y2="148.4" stroke="#333" stroke-width="0.5"/>
<text x="238" y="155" font-size="3.4" font-weight="bold" text-anchor="middle" fill="#222">Time</text>
<text transform="translate(158.2,113) rotate(-90)" font-size="3.1" font-weight="bold" text-anchor="middle" fill="#000" stroke="#000" stroke-width="0.2">Survival probability</text>
<text x="242" y="88.8" font-size="5" fill="#222">VAF cutoff =23</text>
<rect x="183.4" y="67.5" width="3.8" height="3" fill="#f8d2d2" stroke="#e0686a" stroke-width="0.5" opacity="0.9"/>
<line x1="183.4" y1="69" x2="187.20000000000002" y2="69" stroke="#e0686a" stroke-width="0.6"/>
<text x="190" y="70" font-size="2.9" fill="#222" stroke="#222" stroke-width="0.1">Biallelic</text>
<rect x="202" y="67.5" width="3.8" height="3" fill="#dcedbf" stroke="#7fb02a" stroke-width="0.5" opacity="0.9"/>
<line x1="202" y1="69" x2="205.8" y2="69" stroke="#7fb02a" stroke-width="0.6"/>
<text x="208" y="70" font-size="2.9" fill="#222" stroke="#222" stroke-width="0.1">Monoallelic</text>
<rect x="225" y="67.5" width="3.8" height="3" fill="#b3f0ee" stroke="#2ab8b5" stroke-width="0.5" opacity="0.9"/>
<line x1="225" y1="69" x2="228.8" y2="69" stroke="#2ab8b5" stroke-width="0.6"/>
<text x="231" y="70" font-size="2.9" fill="#222" stroke="#222" stroke-width="0.1">Probable Biallelic</text>
<rect x="256" y="67.5" width="3.8" height="3" fill="#e6d8fb" stroke="#9f6cf0" stroke-width="0.5" opacity="0.9"/>
<line x1="256" y1="69" x2="259.8" y2="69" stroke="#9f6cf0" stroke-width="0.6"/>
<text x="262.4" y="70" font-size="2.9" fill="#222" stroke="#222" stroke-width="0.1">Wild Type</text>
<text x="170.4" y="157.5" font-size="4.5" font-weight="bold" textLength="28.6" lengthAdjust="spacingAndGlyphs" fill="#1a1a1a">Number at risk</text>
<line x1="169.5" y1="159.8" x2="169.5" y2="173.8" stroke="#333" stroke-width="0.6"/>
<line x1="169.5" y1="173.8" x2="300" y2="173.8" stroke="#333" stroke-width="0.6"/>
<text x="176.2" y="162.6" font-size="3.3" text-anchor="middle" fill="#222" stroke="#222" stroke-width="0.08">404</text>
<text x="200.3" y="162.6" font-size="3.3" text-anchor="middle" fill="#222" stroke="#222" stroke-width="0.08">111</text>
<text x="225" y="162.6" font-size="3.3" text-anchor="middle" fill="#222" stroke="#222" stroke-width="0.08">51</text>
<text x="249.5" y="162.6" font-size="3.3" text-anchor="middle" fill="#222" stroke="#222" stroke-width="0.08">23</text>
<text x="273.3" y="162.6" font-size="3.3" text-anchor="middle" fill="#222" stroke="#222" stroke-width="0.08">8</text>
<text x="297.5" y="162.6" font-size="3.3" text-anchor="middle" fill="#222" stroke="#222" stroke-width="0.08">5</text>
<text x="176.2" y="166.0" font-size="3.3" text-anchor="middle" fill="#222" stroke="#222" stroke-width="0.08">104</text>
<text x="200.3" y="166.0" font-size="3.3" text-anchor="middle" fill="#222" stroke="#222" stroke-width="0.08">111</text>
<text x="225" y="166.0" font-size="3.3" text-anchor="middle" fill="#222" stroke="#222" stroke-width="0.08">74</text>
<text x="249.5" y="166.0" font-size="3.3" text-anchor="middle" fill="#222" stroke="#222" stroke-width="0.08">45</text>
<text x="273.3" y="166.0" font-size="3.3" text-anchor="middle" fill="#222" stroke="#222" stroke-width="0.08">34</text>
<text x="297.5" y="166.0" font-size="3.3" text-anchor="middle" fill="#222" stroke="#222" stroke-width="0.08">23</text>
<text x="176.2" y="169.4" font-size="3.3" text-anchor="middle" fill="#222" stroke="#222" stroke-width="0.08">479</text>
<text x="200.3" y="169.4" font-size="3.3" text-anchor="middle" fill="#222" stroke="#222" stroke-width="0.08">87</text>
<text x="225" y="169.4" font-size="3.3" text-anchor="middle" fill="#222" stroke="#222" stroke-width="0.08">44</text>
<text x="249.5" y="169.4" font-size="3.3" text-anchor="middle" fill="#222" stroke="#222" stroke-width="0.08">26</text>
<text x="273.3" y="169.4" font-size="3.3" text-anchor="middle" fill="#222" stroke="#222" stroke-width="0.08">20</text>
<text x="297.5" y="169.4" font-size="3.3" text-anchor="middle" fill="#222" stroke="#222" stroke-width="0.08">10</text>
<text x="176.2" y="172.6" font-size="3.3" text-anchor="middle" fill="#222" stroke="#222" stroke-width="0.08">5174</text>
<text x="200.3" y="172.6" font-size="3.3" text-anchor="middle" fill="#222" stroke="#222" stroke-width="0.08">3902</text>
<text x="225" y="172.6" font-size="3.3" text-anchor="middle" fill="#222" stroke="#222" stroke-width="0.08">2475</text>
<text x="249.5" y="172.6" font-size="3.3" text-anchor="middle" fill="#222" stroke="#222" stroke-width="0.08">1617</text>
<text x="273.3" y="172.6" font-size="3.3" text-anchor="middle" fill="#222" stroke="#222" stroke-width="0.08">1344</text>
<text x="297.5" y="172.6" font-size="3.3" text-anchor="middle" fill="#222" stroke="#222" stroke-width="0.08">854</text>
<text x="168.2" y="162.5" font-size="2.9" text-anchor="end" fill="#e0686a">B</text>
<text x="168.2" y="165.9" font-size="2.9" text-anchor="end" fill="#7fb02a">Mono</text>
<text x="168.2" y="169.3" font-size="2.9" text-anchor="end" fill="#2ab8b5">Prob</text>
<text x="168.2" y="172.5" font-size="2.9" text-anchor="end" fill="#9f6cf0">WT</text>
<text x="176.2" y="177.6" font-size="2.9" text-anchor="middle" fill="#333">0</text>
<line x1="176.2" y1="173.8" x2="176.2" y2="174.8" stroke="#333" stroke-width="0.5"/>
<text x="200.3" y="177.6" font-size="2.9" text-anchor="middle" fill="#333">10</text>
<line x1="200.3" y1="173.8" x2="200.3" y2="174.8" stroke="#333" stroke-width="0.5"/>
<text x="225" y="177.6" font-size="2.9" text-anchor="middle" fill="#333">20</text>
<line x1="225" y1="173.8" x2="225" y2="174.8" stroke="#333" stroke-width="0.5"/>
<text x="249.5" y="177.6" font-size="2.9" text-anchor="middle" fill="#333">30</text>
<line x1="249.5" y1="173.8" x2="249.5" y2="174.8" stroke="#333" stroke-width="0.5"/>
<text x="273.3" y="177.6" font-size="2.9" text-anchor="middle" fill="#333">40</text>
<line x1="273.3" y1="173.8" x2="273.3" y2="174.8" stroke="#333" stroke-width="0.5"/>
<text x="297.5" y="177.6" font-size="2.9" text-anchor="middle" fill="#333">50</text>
<line x1="297.5" y1="173.8" x2="297.5" y2="174.8" stroke="#333" stroke-width="0.5"/>
<text x="238" y="181.4" font-size="3.4" font-weight="bold" text-anchor="middle" fill="#222">Time</text>
<path d="M338.60,89.50 L344.10,89.50" fill="none" stroke="#222" stroke-width="1.0"/>
<path d="M344.50,89.60 L344.50,62.00 Q344.50,60.50 346.00,60.50 L356.50,60.50" fill="none" stroke="#222" stroke-width="1.0"/>
<path d="M344.50,89.60 L344.50,118.00 Q344.50,119.50 346.00,119.50 L356.30,119.50" fill="none" stroke="#222" stroke-width="1.0"/>
<path d="M364.80,60.50 L377.00,60.50" fill="none" stroke="#222" stroke-width="1.0"/>
<path d="M395.40,60.50 L401.70,60.50" fill="none" stroke="#222" stroke-width="1.0"/>
<path d="M401.50,60.20 L401.50,51.00 Q401.50,49.50 403.00,49.50 L406.20,49.50" fill="none" stroke="#222" stroke-width="1.0"/>
<path d="M401.50,60.20 L401.50,69.00 Q401.50,70.50 403.00,70.50 L406.50,70.50" fill="none" stroke="#222" stroke-width="1.0"/>
<path d="M414.80,49.50 L420.50,49.50" fill="none" stroke="#222" stroke-width="1.0"/>
<path d="M416.30,70.50 L422.40,70.50" fill="none" stroke="#222" stroke-width="1.0"/>
<path d="M442.70,70.50 L447.90,70.50" fill="none" stroke="#222" stroke-width="1.0"/>
<path d="M447.50,70.60 L447.50,61.00 Q447.50,59.50 449.00,59.50 L453.50,59.50" fill="none" stroke="#222" stroke-width="1.0"/>
<path d="M447.50,70.60 L447.50,79.00 Q447.50,80.50 449.00,80.50 L453.50,80.50" fill="none" stroke="#222" stroke-width="1.0"/>
<path d="M466.70,59.50 L471.40,59.50" fill="none" stroke="#222" stroke-width="1.0"/>
<path d="M466.70,80.50 L471.40,80.50" fill="none" stroke="#222" stroke-width="1.0"/>
<path d="M366.20,119.50 L371.70,119.50" fill="none" stroke="#222" stroke-width="1.0"/>
<path d="M371.50,119.10 L371.50,110.00 Q371.50,108.50 373.00,108.50 L377.30,108.50" fill="none" stroke="#222" stroke-width="1.0"/>
<path d="M371.50,119.10 L371.50,128.00 Q371.50,129.50 373.00,129.50 L377.30,129.50" fill="none" stroke="#222" stroke-width="1.0"/>
<path d="M398.40,108.50 L405.60,108.50" fill="none" stroke="#222" stroke-width="1.0"/>
<path d="M416.70,108.50 L423.50,108.50" fill="none" stroke="#222" stroke-width="1.0"/>
<path d="M423.50,108.80 L423.50,100.00 Q423.50,98.50 425.00,98.50 L428.60,98.50" fill="none" stroke="#222" stroke-width="1.0"/>
<path d="M423.50,108.80 L423.50,118.00 Q423.50,119.50 425.00,119.50 L428.60,119.50" fill="none" stroke="#222" stroke-width="1.0"/>
<path d="M441.60,98.50 L446.30,98.50" fill="none" stroke="#222" stroke-width="1.0"/>
<path d="M441.60,119.50 L446.00,119.50" fill="none" stroke="#222" stroke-width="1.0"/>
<path d="M446.50,119.10 L446.50,110.00 Q446.50,108.50 448.00,108.50 L451.10,108.50" fill="none" stroke="#222" stroke-width="1.0"/>
<path d="M446.50,119.10 L446.50,128.00 Q446.50,129.50 448.00,129.50 L451.10,129.50" fill="none" stroke="#222" stroke-width="1.0"/>
<path d="M464.30,108.50 L468.70,108.50" fill="none" stroke="#222" stroke-width="1.0"/>
<path d="M464.30,129.50 L468.70,129.50" fill="none" stroke="#222" stroke-width="1.0"/>
<path d="M465.50,98.50 L517.80,98.50" fill="none" stroke="#3a3a3a" stroke-width="0.9" stroke-dasharray="1,1.75"/>
<path d="M517.50,98.30 L517.50,149.00" fill="none" stroke="#3a3a3a" stroke-width="0.9" stroke-dasharray="1,1.75"/>
<path d="M517.80,149.50 L492.50,149.50" fill="none" stroke="#3a3a3a" stroke-width="0.9" stroke-dasharray="1,1.75"/>
<path d="M400.30,129.50 L420.00,129.50 Q421.50,129.50 421.50,131.00 L421.50,141.80" fill="none" stroke="#222" stroke-width="1.0"/>
<path d="M365.50,145.90 L365.50,143.00 Q365.50,141.50 367.00,141.50 L476.00,141.50 Q477.50,141.50 477.50,143.00 L477.50,146.10" fill="none" stroke="#222" stroke-width="1.0"/>
<path d="M403.50,141.80 L403.50,146.10" fill="none" stroke="#222" stroke-width="1.0"/>
<path d="M440.50,141.80 L440.50,146.10" fill="none" stroke="#222" stroke-width="1.0"/>
<path d="M365.50,152.00 L365.50,156.80" fill="none" stroke="#222" stroke-width="1.0"/>
<path d="M403.50,152.00 L403.50,156.80" fill="none" stroke="#222" stroke-width="1.0"/>
<path d="M440.50,152.00 L440.50,156.80" fill="none" stroke="#222" stroke-width="1.0"/>
<path d="M477.50,152.00 L477.50,156.80" fill="none" stroke="#222" stroke-width="1.0"/>
<path d="M365.50,162.90 L365.50,166.00 Q365.50,167.50 367.00,167.50 L476.00,167.50 Q477.50,167.50 477.50,166.00 L477.50,162.90" fill="none" stroke="#222" stroke-width="1.0"/>
<path d="M403.50,162.90 L403.50,167.20" fill="none" stroke="#222" stroke-width="1.0"/>
<path d="M440.50,162.90 L440.50,167.20" fill="none" stroke="#222" stroke-width="1.0"/>
<path d="M415.50,167.20 L415.50,171.80" fill="none" stroke="#222" stroke-width="1.0"/>
<path d="M379.50,176.90 L379.50,173.00 Q379.50,171.50 381.00,171.50 L451.00,171.50 Q452.50,171.50 452.50,173.00 L452.50,176.90" fill="none" stroke="#222" stroke-width="1.0"/>
<path d="M452.50,183.30 L452.50,186.20" fill="none" stroke="#222" stroke-width="1.0"/>
<path d="M379.50,183.30 L379.50,186.40" fill="none" stroke="#222" stroke-width="1.0"/>
<path d="M344.50,190.40 L344.50,188.00 Q344.50,186.50 346.00,186.50 L414.00,186.50 Q415.50,186.50 415.50,188.00 L415.50,190.60" fill="none" stroke="#222" stroke-width="1.0"/>
<path d="M344.50,196.70 L344.50,201.20" fill="none" stroke="#222" stroke-width="1.0"/>
<path d="M415.50,196.70 L415.50,201.90" fill="none" stroke="#222" stroke-width="1.0"/>
<rect x="356.5" y="57.5" width="8.0" height="6.0" rx="1.2" fill="#f1f1f1" stroke="#444" stroke-width="1"/>
<text x="360.6" y="61.77" font-size="4.5" text-anchor="middle" fill="#1c1c1c">No</text>
<rect x="406.5" y="46.5" width="8.0" height="6.0" rx="1.2" fill="#f1f1f1" stroke="#444" stroke-width="1"/>
<text x="410.5" y="51.32" font-size="4.5" text-anchor="middle" fill="#1c1c1c">No</text>
<rect x="406.5" y="67.5" width="10.0" height="6.0" rx="1.2" fill="#f1f1f1" stroke="#444" stroke-width="1"/>
<text x="411.4" y="72.37" font-size="4.5" text-anchor="middle" fill="#1c1c1c">Yes</text>
<rect x="453.5" y="56.5" width="13.0" height="7.0" rx="1.2" fill="#f1f1f1" stroke="#444" stroke-width="1"/>
<text x="460.1" y="61.47" font-size="4.5" text-anchor="middle" fill="#1c1c1c">≥50%</text>
<rect x="453.5" y="77.5" width="13.0" height="6.0" rx="1.2" fill="#f1f1f1" stroke="#444" stroke-width="1"/>
<text x="460.1" y="82.12" font-size="4.5" text-anchor="middle" fill="#1c1c1c">&lt;50%</text>
<rect x="356.5" y="116.5" width="10.0" height="6.0" rx="1.2" fill="#f1f1f1" stroke="#444" stroke-width="1"/>
<text x="361.2" y="120.77" font-size="4.5" text-anchor="middle" fill="#1c1c1c">Yes</text>
<rect x="428.5" y="95.5" width="13.0" height="6.0" rx="1.2" fill="#f1f1f1" stroke="#444" stroke-width="1"/>
<text x="435.1" y="100.12" font-size="4.5" text-anchor="middle" fill="#1c1c1c">≥50%</text>
<rect x="428.5" y="116.5" width="13.0" height="5.0" rx="1.2" fill="#f1f1f1" stroke="#444" stroke-width="1"/>
<text x="435.1" y="120.72" font-size="4.5" text-anchor="middle" fill="#1c1c1c">&lt;50%</text>
<rect x="451.5" y="105.5" width="13.0" height="7.0" rx="1.2" fill="#f1f1f1" stroke="#444" stroke-width="1"/>
<text x="457.7" y="110.42" font-size="4.5" text-anchor="middle" fill="#1c1c1c">≥23%</text>
<rect x="451.5" y="126.5" width="13.0" height="6.0" rx="1.2" fill="#f1f1f1" stroke="#444" stroke-width="1"/>
<text x="457.7" y="131.22" font-size="4.5" text-anchor="middle" fill="#1c1c1c">&lt;23%</text>
<rect x="350.5" y="145.5" width="31.0" height="6.0" rx="1.2" fill="#f1f1f1" stroke="#444" stroke-width="1"/>
<text x="366.1" y="150.37" font-size="4.5" text-anchor="middle" fill="#1c1c1c">≥ 2 mutations</text>
<rect x="388.5" y="146.5" width="29.0" height="6.0" rx="1.2" fill="#f1f1f1" stroke="#444" stroke-width="1"/>
<text x="403.0" y="150.62" font-size="4.5" text-anchor="middle" fill="#1c1c1c">MT + CN del</text>
<rect x="425.5" y="146.5" width="29.0" height="5.0" rx="1.2" fill="#f1f1f1" stroke="#444" stroke-width="1"/>
<text x="440.1" y="150.62" font-size="4.5" text-anchor="middle" fill="#1c1c1c">MT + 17p del</text>
<rect x="462.5" y="146.5" width="30.0" height="5.0" rx="1.2" fill="#f1f1f1" stroke="#444" stroke-width="1"/>
<text x="477.1" y="150.62" font-size="4.5" text-anchor="middle" fill="#1c1c1c">UPD + MT</text>
<rect x="372.5" y="176.5" width="13.0" height="7.0" rx="1.2" fill="#f1f1f1" stroke="#444" stroke-width="1"/>
<text x="379.1" y="181.72" font-size="4.5" text-anchor="middle" fill="#1c1c1c">&lt;50%</text>
<rect x="445.5" y="176.5" width="13.0" height="7.0" rx="1.2" fill="#f1f1f1" stroke="#444" stroke-width="1"/>
<text x="452.1" y="181.72" font-size="4.5" text-anchor="middle" fill="#1c1c1c">≥50%</text>
<rect x="337.5" y="190.5" width="14.0" height="6.0" rx="1.2" fill="#f1f1f1" stroke="#444" stroke-width="1"/>
<text x="344.1" y="195.17" font-size="4.5" text-anchor="middle" fill="#1c1c1c">&lt;23%</text>
<rect x="408.5" y="190.5" width="13.0" height="6.0" rx="1.2" fill="#f1f1f1" stroke="#444" stroke-width="1"/>
<text x="415.2" y="195.27" font-size="4.5" text-anchor="middle" fill="#1c1c1c">≥23%</text>
<rect x="420.5" y="46.5" width="21.0" height="7.0" rx="1.2" fill="#fce4e4" stroke="#e67070" stroke-width="1"/>
<text x="431.1" y="51.47" font-size="4.5" text-anchor="middle" fill="#1c1c1c">TP53 WT</text>
<rect x="471.5" y="56.5" width="19.0" height="7.0" rx="1.2" fill="#fce4e4" stroke="#e67070" stroke-width="1"/>
<text x="480.7" y="61.62" font-size="4.5" text-anchor="middle" fill="#1c1c1c">Biallelic</text>
<rect x="471.5" y="77.5" width="25.0" height="7.0" rx="1.2" fill="#fce4e4" stroke="#e67070" stroke-width="1"/>
<text x="483.9" y="82.32" font-size="4.5" text-anchor="middle" fill="#1c1c1c">Monoallelic</text>
<rect x="317.5" y="86.5" width="21.0" height="6.0" rx="1.2" fill="#fce4e4" stroke="#e67070" stroke-width="1"/>
<text x="328.1" y="91.22" font-size="4.5" text-anchor="middle" fill="#1c1c1c">TP53 MT</text>
<rect x="446.5" y="95.5" width="19.0" height="6.0" rx="1.2" fill="#fce4e4" stroke="#e67070" stroke-width="1"/>
<text x="455.7" y="99.92" font-size="4.5" text-anchor="middle" fill="#1c1c1c">Biallelic</text>
<rect x="468.5" y="105.5" width="38.0" height="6.0" rx="1.2" fill="#fce4e4" stroke="#e67070" stroke-width="1"/>
<text x="487.8" y="110.37" font-size="4.5" text-anchor="middle" fill="#1c1c1c">Probable Biallelic</text>
<rect x="468.5" y="126.5" width="46.0" height="6.0" rx="1.2" fill="#fce4e4" stroke="#e67070" stroke-width="1"/>
<text x="491.4" y="131.17" font-size="4.5" text-anchor="middle" fill="#1c1c1c">Probable Monoallelic</text>
<rect x="443.5" y="186.5" width="18.0" height="6.0" rx="1.2" fill="#fce4e4" stroke="#e67070" stroke-width="1"/>
<text x="452.8" y="190.87" font-size="4.5" text-anchor="middle" fill="#1c1c1c">Biallelic</text>
<rect x="321.5" y="201.5" width="45.0" height="6.0" rx="1.2" fill="#fce4e4" stroke="#e67070" stroke-width="1"/>
<text x="344.3" y="205.87" font-size="4.5" text-anchor="middle" fill="#1c1c1c">Probable Monoallelic</text>
<rect x="396.5" y="201.5" width="40.0" height="7.0" rx="1.2" fill="#fce4e4" stroke="#e67070" stroke-width="1"/>
<text x="416.1" y="206.72" font-size="4.5" text-anchor="middle" fill="#1c1c1c">Probable Biallelic</text>
<rect x="422.5" y="67.5" width="20.0" height="7.0" rx="1.2" fill="#e6f5df" stroke="#86c986" stroke-width="1"/>
<text x="432.5" y="72.42" font-size="4.5" text-anchor="middle" fill="#1c1c1c">Clonality</text>
<rect x="405.5" y="105.5" width="11.0" height="7.0" rx="1.2" fill="#e6f5df" stroke="#86c986" stroke-width="1"/>
<text x="411.1" y="110.42" font-size="4.5" text-anchor="middle" fill="#1c1c1c">VAF</text>
<rect x="355.5" y="156.5" width="21.0" height="6.0" rx="1.2" fill="#e6f5df" stroke="#86c986" stroke-width="1"/>
<text x="365.9" y="161.32" font-size="4.5" text-anchor="middle" fill="#1c1c1c">Sum VAF</text>
<rect x="387.5" y="156.5" width="32.0" height="6.0" rx="1.2" fill="#e6f5df" stroke="#86c986" stroke-width="1"/>
<text x="403.4" y="161.47" font-size="4.5" text-anchor="middle" fill="#1c1c1c">VAF=clonality</text>
<rect x="423.5" y="156.5" width="33.0" height="6.0" rx="1.2" fill="#e6f5df" stroke="#86c986" stroke-width="1"/>
<text x="439.9" y="161.47" font-size="4.5" text-anchor="middle" fill="#1c1c1c">VAF=clonality</text>
<rect x="472.5" y="156.5" width="10.0" height="6.0" rx="1.2" fill="#e6f5df" stroke="#86c986" stroke-width="1"/>
<text x="477.3" y="161.47" font-size="4.5" text-anchor="middle" fill="#1c1c1c">VAF</text>
<ellipse cx="386.2" cy="60.1" rx="9.2" ry="3.7" fill="#eeeefd" stroke="#4444cc" stroke-width="0.95"/>
<text x="386.2" y="61.72" font-size="4.5" letter-spacing="-0.2" text-anchor="middle" fill="#000">17p del</text>
<ellipse cx="387.8" cy="108.9" rx="10.7" ry="4.4" fill="#eeeefd" stroke="#4444cc" stroke-width="0.95"/>
<text x="387.8" y="110.52" font-size="4.5" letter-spacing="-0.2" text-anchor="middle" fill="#000">Single hit</text>
<ellipse cx="389.0" cy="129.2" rx="11.8" ry="5.0" fill="#eeeefd" stroke="#4444cc" stroke-width="0.95"/>
<text x="389.0" y="130.82" font-size="4.5" letter-spacing="-0.2" text-anchor="middle" fill="#000">Double hit</text>
<rect x="368.5" y="236.5" width="82" height="25" rx="2" fill="#fff" stroke="#86c986" stroke-width="1"/>
<text x="385.0" y="245.1" font-size="4.5" textLength="42.5" lengthAdjust="spacingAndGlyphs" fill="#000" stroke="#000" stroke-width="0.12">A: VAF of TP53 MT #1</text>
<text x="385.0" y="250.8" font-size="4.5" textLength="43.1" lengthAdjust="spacingAndGlyphs" fill="#000" stroke="#000" stroke-width="0.12">B: VAF of TP53 MT #2</text>
<text x="385.0" y="255.7" font-size="4.5" textLength="44.4" lengthAdjust="spacingAndGlyphs" fill="#000" stroke="#000" stroke-width="0.12">D: Clonality of 17p del</text>
<text x="344.7" y="273" font-size="5.15" font-weight="bold" text-anchor="middle" fill="#4a4a4a">Biallelic</text>
<text x="408.2" y="273" font-size="5.15" font-weight="bold" text-anchor="middle" fill="#4a4a4a">Propable Biallelic</text>
<text x="469.2" y="273" font-size="5.15" font-weight="bold" text-anchor="middle" fill="#4a4a4a">Propable Monoallelic</text>
<rect x="319.5" y="276.5" width="58" height="37" rx="2" fill="#fff" stroke="#777" stroke-width="0.9"/>
<rect x="379.5" y="276.5" width="58" height="37" rx="2" fill="#fff" stroke="#777" stroke-width="0.9"/>
<rect x="440.5" y="276.5" width="58" height="37" rx="2" fill="#fff" stroke="#777" stroke-width="0.9"/>
<text x="333.6" y="286.4" font-size="4.5" font-weight="bold" textLength="24.3" lengthAdjust="spacingAndGlyphs" fill="#111">A or B ≥50%</text>
<text x="333.6" y="296.8" font-size="4.5" font-weight="bold" textLength="22.6" lengthAdjust="spacingAndGlyphs" fill="#111">A + B ≥50%</text>
<text x="333.6" y="306.5" font-size="4.5" font-weight="bold" textLength="27.8" lengthAdjust="spacingAndGlyphs" fill="#111">A /B + D ≥50%</text>
<text x="343.2" y="290.7" font-size="2.8" text-anchor="middle" fill="#3a9a3a">OR</text>
<text x="343.2" y="301.2" font-size="2.8" text-anchor="middle" fill="#3a9a3a">OR</text>
<text x="384.6" y="286.4" font-size="4.5" font-weight="bold" textLength="47.0" lengthAdjust="spacingAndGlyphs" fill="#111">A or B ≥23% <tspan fill="#e53030">AND</tspan> &lt;50%</text>
<text x="384.6" y="296.8" font-size="4.5" font-weight="bold" textLength="45.5" lengthAdjust="spacingAndGlyphs" fill="#111">A + B ≥23% <tspan fill="#e53030">AND</tspan> &lt;50%</text>
<text x="384.6" y="306.5" font-size="4.5" font-weight="bold" textLength="51.1" lengthAdjust="spacingAndGlyphs" fill="#111">A /B + D ≥23% <tspan fill="#e53030">AND</tspan> &lt;50%</text>
<text x="408.2" y="290.7" font-size="2.8" text-anchor="middle" fill="#3a9a3a">OR</text>
<text x="408.2" y="301.2" font-size="2.8" text-anchor="middle" fill="#3a9a3a">OR</text>
<text x="454.8" y="286.4" font-size="4.5" font-weight="bold" textLength="24.8" lengthAdjust="spacingAndGlyphs" fill="#111">A or B &lt;23%</text>
<text x="454.8" y="296.8" font-size="4.5" font-weight="bold" textLength="22.5" lengthAdjust="spacingAndGlyphs" fill="#111">A + B &lt;23%</text>
<text x="454.8" y="306.5" font-size="4.5" font-weight="bold" textLength="28.3" lengthAdjust="spacingAndGlyphs" fill="#111">A /B + D &lt;23%</text>
<text x="466.4" y="290.7" font-size="2.8" text-anchor="middle" fill="#3a9a3a">OR</text>
<text x="466.4" y="301.2" font-size="2.8" text-anchor="middle" fill="#3a9a3a">OR</text>
<text x="10.6" y="8.0" font-size="10" font-weight="bold" fill="#111">Figure 1</text>
<text transform="translate(10.1,38) scale(0.85,1)" font-size="9.4" font-weight="bold" fill="#111">A</text>
<text transform="translate(342.4,40.6) scale(0.75,1)" font-size="9.4" font-weight="bold" fill="#111">B</text>
</svg>
</body></html>
